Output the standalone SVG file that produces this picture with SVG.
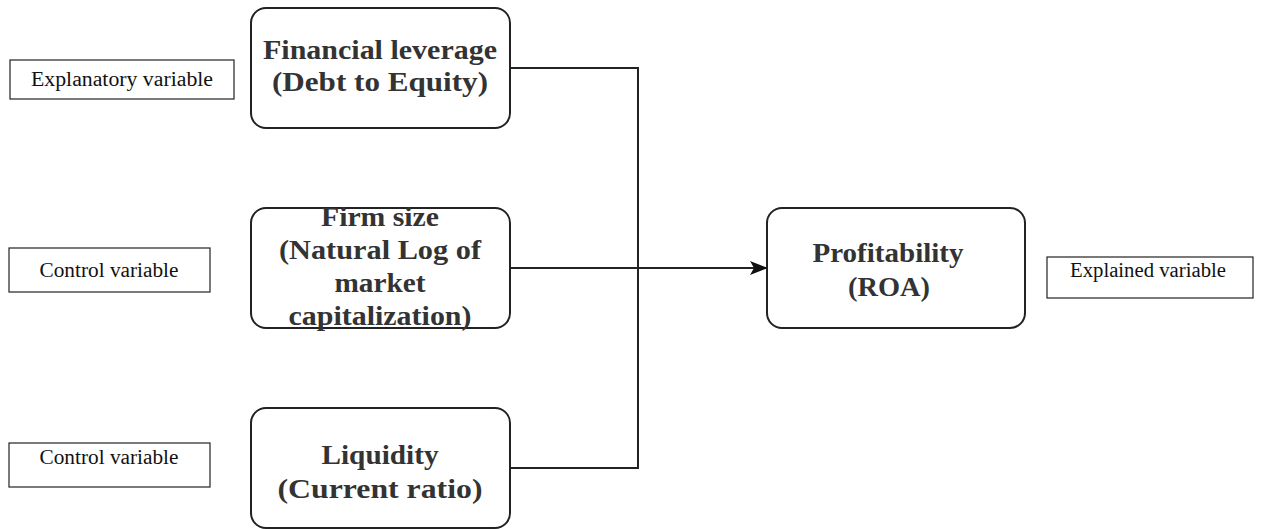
<svg xmlns="http://www.w3.org/2000/svg" width="1266" height="529" viewBox="0 0 1266 529">
<style>
.node{fill:#fff;stroke:#222;stroke-width:2}
.lbl{fill:#fff;stroke:#222;stroke-width:1.2}
.nt{font-family:"Liberation Serif",serif;font-weight:bold;font-size:28px;fill:#333;text-anchor:middle}
.lt{font-family:"Liberation Serif",serif;font-size:20px;fill:#111;text-anchor:middle}
.con{fill:none;stroke:#222;stroke-width:2}
</style>
<defs>
<marker id="arr" viewBox="0 0 18 14" refX="17" refY="7" markerWidth="18" markerHeight="14" markerUnits="userSpaceOnUse" orient="auto">
<path d="M0,0 L18,7 L0,14 L4,7 Z" fill="#111"/>
</marker>
</defs>
<rect width="1266" height="529" fill="#fff"/>
<g id="connectors">
<path class="con" d="M510,68 H638 V468 H510"/>
<path class="con" d="M510,268 H767" marker-end="url(#arr)"/>
</g>
<g id="lbl-explanatory">
<rect class="lbl" x="10" y="60" width="224" height="39"/>
<text class="lt" x="122" y="86" textLength="182" lengthAdjust="spacingAndGlyphs">Explanatory variable</text>
</g>
<g id="lbl-control1">
<rect class="lbl" x="9" y="248" width="201" height="44"/>
<text class="lt" x="109" y="277" textLength="139" lengthAdjust="spacingAndGlyphs">Control variable</text>
</g>
<g id="lbl-control2">
<rect class="lbl" x="9" y="443" width="201" height="44"/>
<text class="lt" x="109" y="464" textLength="139" lengthAdjust="spacingAndGlyphs">Control variable</text>
</g>
<g id="lbl-explained">
<rect class="lbl" x="1047" y="257" width="206" height="41"/>
<text class="lt" x="1148" y="277" textLength="156" lengthAdjust="spacingAndGlyphs">Explained variable</text>
</g>
<g id="node-leverage">
<rect class="node" x="251" y="8" width="259" height="120" rx="15"/>
<text class="nt" x="380" y="59" textLength="234" lengthAdjust="spacingAndGlyphs">Financial leverage</text>
<text class="nt" x="380" y="91" textLength="216" lengthAdjust="spacingAndGlyphs">(Debt to Equity)</text>
</g>
<g id="node-size">
<rect class="node" x="251" y="208" width="259" height="120" rx="15"/>
<text class="nt" x="380" y="226" textLength="118" lengthAdjust="spacingAndGlyphs">Firm size</text>
<text class="nt" x="380" y="259" textLength="202" lengthAdjust="spacingAndGlyphs">(Natural Log of</text>
<text class="nt" x="380" y="292" textLength="91" lengthAdjust="spacingAndGlyphs">market</text>
<text class="nt" x="380" y="325" textLength="183" lengthAdjust="spacingAndGlyphs">capitalization)</text>
</g>
<g id="node-liquidity">
<rect class="node" x="251" y="408" width="259" height="120" rx="15"/>
<text class="nt" x="380" y="464" textLength="117" lengthAdjust="spacingAndGlyphs">Liquidity</text>
<text class="nt" x="380" y="498" textLength="205" lengthAdjust="spacingAndGlyphs">(Current ratio)</text>
</g>
<g id="node-profitability">
<rect class="node" x="767" y="208" width="258" height="120" rx="15"/>
<text class="nt" x="888" y="262" textLength="151" lengthAdjust="spacingAndGlyphs">Profitability</text>
<text class="nt" x="889" y="296" textLength="82" lengthAdjust="spacingAndGlyphs">(ROA)</text>
</g>
</svg>
